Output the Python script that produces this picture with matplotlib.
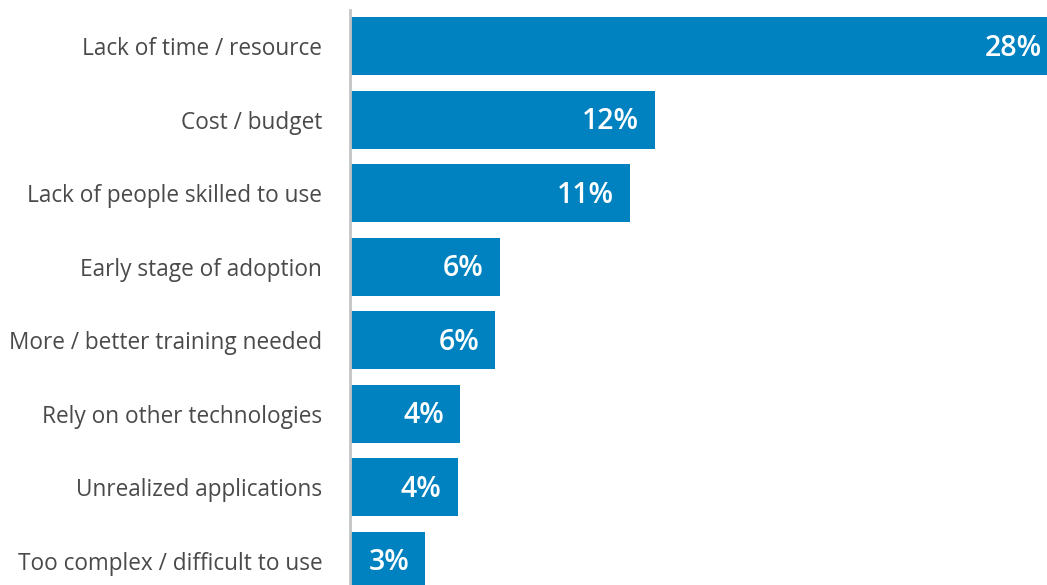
import matplotlib
matplotlib.use("Agg")
import matplotlib.pyplot as plt

categories = [
    "Lack of time / resource",
    "Cost / budget",
    "Lack of people skilled to use",
    "Early stage of adoption",
    "More / better training needed",
    "Rely on other technologies",
    "Unrealized applications",
    "Too complex / difficult to use",
]
values = [28.3, 12.2, 11.2, 6.0, 5.8, 4.4, 4.3, 3.0]
value_labels = ["28%", "12%", "11%", "6%", "6%", "4%", "4%", "3%"]

BAR_COLOR = "#0082c0"
TEXT_COLOR = "#4a4a4a"

plt.rcParams["font.family"] = ["Open Sans", "DejaVu Sans"]

fig = plt.figure(figsize=(10.47, 5.85), dpi=100)
ax = fig.add_axes([350 / 1047, 0, 697 / 1047, 575 / 585])

pos = list(range(len(categories)))
ax.barh(pos, values, height=0.79, color=BAR_COLOR, left=0)

# value labels sit inside the bar end; the top bar runs past the right edge
for y, v, lab in zip(pos, values, value_labels):
    ax.annotate(lab, xy=(v, y), xytext=(-16, -2), textcoords="offset pixels",
                ha="right", va="center", color="white", fontsize=20.5,
                fontweight="semibold", annotation_clip=False)

ax.set_xlim(0, 27.88)
ax.set_ylim(7.33, -0.49)
ax.set_yticks(pos)
ax.set_yticklabels(categories, fontsize=16.3, color=TEXT_COLOR)
ax.tick_params(axis="y", length=0, pad=20)
ax.set_xticks([])

for side in ["top", "right", "bottom"]:
    ax.spines[side].set_visible(False)
ax.spines["left"].set_color("#c4c4c4")
ax.spines["left"].set_linewidth(2)

fig.savefig("out.png", dpi=100)
